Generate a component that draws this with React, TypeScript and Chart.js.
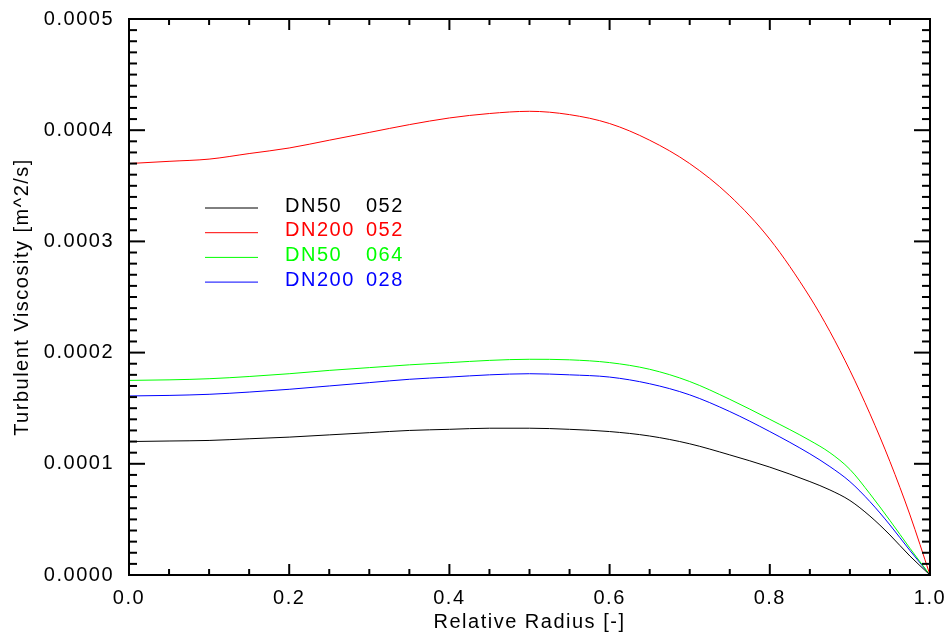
import { useEffect, useRef } from 'react';
import { Chart, registerables } from 'chart.js';

Chart.register(...registerables);

const RADIUS = [0, 0.05, 0.1, 0.15, 0.2, 0.25, 0.3, 0.35, 0.4, 0.45, 0.5, 0.55, 0.6, 0.65, 0.7, 0.75, 0.8, 0.85, 0.875, 0.9, 0.925, 0.95, 0.975, 1.0];

const DN50_052 = [1.20e-4, 1.205e-4, 1.21e-4, 1.225e-4, 1.24e-4, 1.26e-4, 1.28e-4, 1.30e-4, 1.31e-4, 1.32e-4, 1.32e-4, 1.31e-4, 1.29e-4, 1.25e-4, 1.18e-4, 1.08e-4, 0.97e-4, 0.84e-4, 0.765e-4, 0.67e-4, 0.53e-4, 0.36e-4, 0.17e-4, 0];
const DN200_052 = [3.70e-4, 3.72e-4, 3.74e-4, 3.79e-4, 3.84e-4, 3.91e-4, 3.98e-4, 4.05e-4, 4.11e-4, 4.15e-4, 4.17e-4, 4.14e-4, 4.06e-4, 3.91e-4, 3.70e-4, 3.41e-4, 3.02e-4, 2.50e-4, 2.19e-4, 1.84e-4, 1.45e-4, 1.02e-4, 0.54e-4, 0];
const DN50_064 = [1.75e-4, 1.755e-4, 1.765e-4, 1.785e-4, 1.81e-4, 1.84e-4, 1.865e-4, 1.89e-4, 1.91e-4, 1.93e-4, 1.94e-4, 1.935e-4, 1.91e-4, 1.85e-4, 1.74e-4, 1.58e-4, 1.40e-4, 1.21e-4, 1.10e-4, 0.95e-4, 0.73e-4, 0.49e-4, 0.24e-4, 0];
const DN200_028 = [1.61e-4, 1.615e-4, 1.625e-4, 1.645e-4, 1.67e-4, 1.70e-4, 1.73e-4, 1.76e-4, 1.78e-4, 1.80e-4, 1.81e-4, 1.80e-4, 1.78e-4, 1.72e-4, 1.62e-4, 1.47e-4, 1.29e-4, 1.09e-4, 0.975e-4, 0.84e-4, 0.66e-4, 0.45e-4, 0.22e-4, 0];

const SERIES_NAMES = ['DN50', 'DN200', 'DN50', 'DN200'];
const SERIES_CODES = ['052', '052', '064', '028'];
const SERIES_VALUES = [DN50_052, DN200_052, DN50_064, DN200_028];
const SERIES_COLORS = ['#000000', '#ff0000', '#00ff00', '#0000ff'];

const X_MIN = 0;
const X_MAX = 1.0;
const X_MAJOR = 0.2;
const X_MINOR = 0.05;
const Y_MIN = 0;
const Y_MAX = 0.0005;
const Y_MAJOR = 0.0001;
const Y_MINOR = 0.00001;

const X_TITLE = 'Relative Radius [-]';
const Y_TITLE = 'Turbulent Viscosity [m^2/s]';

const FONT_FAMILY = '"Liberation Sans", Arial, Helvetica, sans-serif';
const FONT_SIZE = 20;
const LETTER_SPACING = '1.5px';

const framePlugin = {
  id: 'frame',
  beforeDraw(chart: any) {
    chart.ctx.letterSpacing = LETTER_SPACING;
  },
  afterDatasetsDraw(chart: any) {
    const { ctx, chartArea, scales } = chart;
    const { left, right, top, bottom } = chartArea;
    const x = scales.x;
    const y = scales.y;
    ctx.save();
    ctx.strokeStyle = '#000';
    ctx.lineWidth = 2;
    ctx.lineCap = 'butt';
    ctx.strokeRect(left, top, right - left, bottom - top);
    const seg = (x1: number, y1: number, x2: number, y2: number) => {
      ctx.beginPath();
      ctx.moveTo(x1, y1);
      ctx.lineTo(x2, y2);
      ctx.stroke();
    };
    const nY = Math.round((Y_MAX - Y_MIN) / Y_MINOR);
    const perY = Math.round(Y_MAJOR / Y_MINOR);
    for (let i = 0; i <= nY; i++) {
      const py = y.getPixelForValue(Y_MIN + i * Y_MINOR);
      const len = i % perY === 0 ? 16 : 8;
      seg(left, py, left + len, py);
      seg(right, py, right - len, py);
    }
    const nX = Math.round((X_MAX - X_MIN) / X_MINOR);
    const perX = Math.round(X_MAJOR / X_MINOR);
    for (let i = 0; i <= nX; i++) {
      const px = x.getPixelForValue(X_MIN + i * X_MINOR);
      const len = i % perX === 0 ? 11 : 6;
      seg(px, bottom, px, bottom - len);
      seg(px, top, px, top + len);
    }
    ctx.restore();
  },
  afterDraw(chart: any) {
    const { ctx } = chart;
    ctx.save();
    ctx.letterSpacing = LETTER_SPACING;
    ctx.font = `${FONT_SIZE}px ${FONT_FAMILY}`;
    ctx.textBaseline = 'middle';
    ctx.textAlign = 'left';
    chart.data.datasets.forEach((ds: any, i: number) => {
      const ly = 208 + i * 24.7;
      ctx.strokeStyle = ds.borderColor;
      ctx.lineWidth = 1;
      ctx.beginPath();
      ctx.moveTo(205, ly);
      ctx.lineTo(258, ly);
      ctx.stroke();
      ctx.fillStyle = ds.borderColor;
      ctx.fillText(SERIES_NAMES[i], 285, ly - 2);
      ctx.fillText(SERIES_CODES[i], 366, ly - 2);
    });
    ctx.restore();
  },
};

export default function App() {
  const ref = useRef<HTMLCanvasElement | null>(null);
  useEffect(() => {
    if (!ref.current) return;
    const datasets = SERIES_VALUES.map((vals, i) => ({
      label: `${SERIES_NAMES[i]} ${SERIES_CODES[i]}`,
      data: RADIUS.map((r, j) => ({ x: r, y: vals[j] })),
      borderColor: SERIES_COLORS[i],
      backgroundColor: SERIES_COLORS[i],
      borderWidth: 1,
      pointRadius: 0,
      cubicInterpolationMode: 'monotone' as const,
      fill: false,
    }));
    const chart = new Chart(ref.current, {
      type: 'line',
      data: { datasets },
      options: {
        animation: false,
        responsive: false,
        maintainAspectRatio: false,
        devicePixelRatio: 1,
        layout: { padding: { top: 15, right: 19, left: 0, bottom: 0 } },
        plugins: { legend: { display: false }, tooltip: { enabled: false } },
        scales: {
          x: {
            type: 'linear',
            min: X_MIN,
            max: X_MAX,
            grid: { display: false },
            border: { display: false },
            ticks: {
              stepSize: X_MAJOR,
              color: '#000',
              padding: 3,
              maxRotation: 0,
              font: { family: FONT_FAMILY, size: FONT_SIZE },
              callback: (v: any) => Number(v).toFixed(1),
            },
            title: {
              display: true,
              text: X_TITLE,
              color: '#000',
              font: { family: FONT_FAMILY, size: FONT_SIZE },
              padding: { top: 0, bottom: 2 },
            },
            afterFit: (s: any) => { s.height = 61; },
          },
          y: {
            type: 'linear',
            min: Y_MIN,
            max: Y_MAX,
            grid: { display: false },
            border: { display: false },
            ticks: {
              stepSize: Y_MAJOR,
              color: '#000',
              padding: 7,
              font: { family: FONT_FAMILY, size: FONT_SIZE },
              callback: (v: any) => Number(v).toFixed(4),
            },
            title: {
              display: true,
              text: Y_TITLE,
              color: '#000',
              font: { family: FONT_FAMILY, size: FONT_SIZE },
              padding: { top: 10, bottom: 0 },
            },
            afterFit: (s: any) => { s.width = 129; },
          },
        },
      },
      plugins: [framePlugin],
    });
    return () => chart.destroy();
  }, []);
  return (
    <div style={{ position: 'absolute', left: 0, top: 0, width: 949, height: 636, background: '#fff' }}>
      <canvas ref={ref} width={949} height={636} style={{ display: 'block' }} />
    </div>
  );
}
